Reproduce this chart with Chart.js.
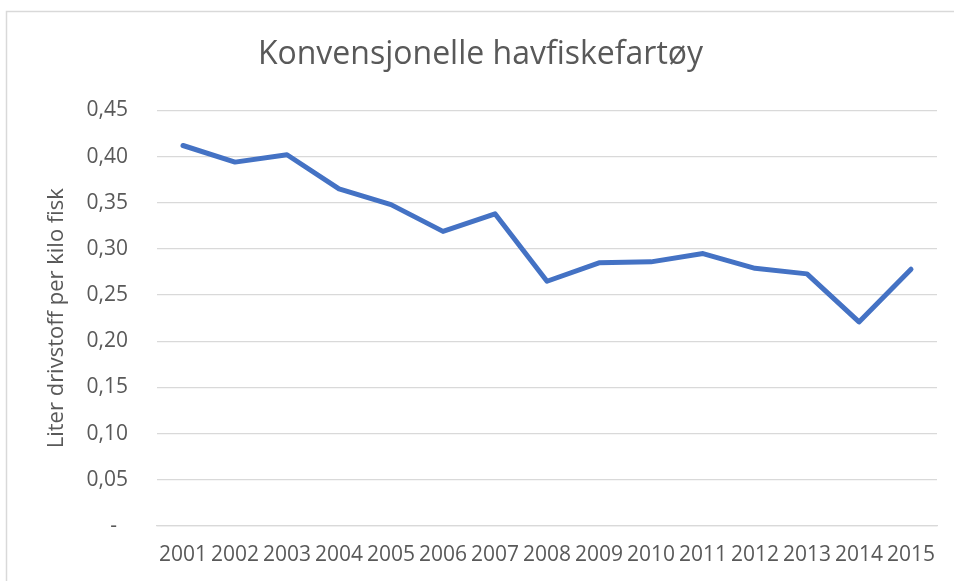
<!DOCTYPE html>
<html>
<head>
<meta charset="utf-8">
<script src="https://cdn.jsdelivr.net/npm/chart.js@4"></script>
<style>
  html, body { margin: 0; padding: 0; background: #fff; }
  #wrap { width: 954px; height: 581px; position: relative; }
</style>
</head>
<body>
<div id="wrap"><canvas id="fuel-chart"></canvas></div>
<script>
const years = ["2001", "2002", "2003", "2004", "2005", "2006", "2007", "2008",
    "2009", "2010", "2011", "2012", "2013", "2014", "2015"];
const litersPerKilo = [0.412, 0.394, 0.402, 0.365, 0.348, 0.319, 0.338, 0.265,
    0.285, 0.286, 0.295, 0.279, 0.273, 0.221, 0.278];
const yTicks = [0, 0.05, 0.10, 0.15, 0.20, 0.25, 0.30, 0.35, 0.40, 0.45];

const chartTitle = "Konvensjonelle havfiskefartøy";
const yTitle = "Liter drivstoff per kilo fisk";

const grey = "#595959";
const gridGrey = "#D9D9D9";
const fontFamily = "'Open Sans', sans-serif";

// light frame round the chart, like the Excel chart object
const framePlugin = {
    id: "frame",
    beforeDraw(chart) {
        const ctx = chart.ctx;
        ctx.save();
        ctx.strokeStyle = gridGrey;
        ctx.lineWidth = 1.5;
        ctx.strokeRect(6.5, 11.5, 1200, 1200);
        ctx.restore();
    },
};

function formatTick(value) {
    if (Math.abs(value) < 1e-9) return "-  ";
    return value.toFixed(2).replace(".", ",");
}

const ctx = document.getElementById("fuel-chart").getContext("2d");
const fuelChart = new Chart(ctx, {
    type: "line",
    data: {
        labels: years,
        datasets: [
            {
                label: yTitle,
                data: litersPerKilo,
                borderColor: "#4472C4",
                borderWidth: 5,
                borderCapStyle: "round",
                borderJoinStyle: "round",
                pointRadius: 0,
                fill: false,
                tension: 0,
            },
        ],
    },
    options: {
        responsive: true,
        maintainAspectRatio: false,
        animation: false,
        layout: { padding: { left: 24, right: 17, top: 0, bottom: 0 } },
        plugins: {
            legend: { display: false },
            tooltip: { enabled: false },
            title: {
                display: true,
                text: chartTitle,
                color: grey,
                font: { family: fontFamily, size: 32, weight: "normal" },
                padding: { top: 36, bottom: 36 },
            },
        },
        scales: {
            x: {
                type: "category",
                offset: true,
                grid: { display: false, drawTicks: false },
                border: { display: true, color: gridGrey, width: 1.3 },
                ticks: {
                    color: grey,
                    font: { family: fontFamily, size: 21 },
                    padding: 16,
                    autoSkip: false,
                    maxRotation: 0,
                    minRotation: 0,
                },
                afterFit(scale) {
                    scale.height = 55;
                },
            },
            y: {
                min: 0,
                max: 0.45,
                afterBuildTicks(scale) {
                    scale.ticks = yTicks.map((v) => ({ value: v }));
                },
                grid: { color: gridGrey, lineWidth: 1.3, drawTicks: false },
                border: { display: false },
                ticks: {
                    color: grey,
                    font: { family: fontFamily, size: 21 },
                    padding: 29,
                    callback: formatTick,
                },
                title: {
                    display: true,
                    text: yTitle,
                    color: grey,
                    font: { family: fontFamily, size: 22 },
                    padding: { top: 20, bottom: 0 },
                },
                afterFit(scale) {
                    scale.width = 157 - 24;
                },
            },
        },
    },
    plugins: [framePlugin],
});
</script>
</body>
</html>
